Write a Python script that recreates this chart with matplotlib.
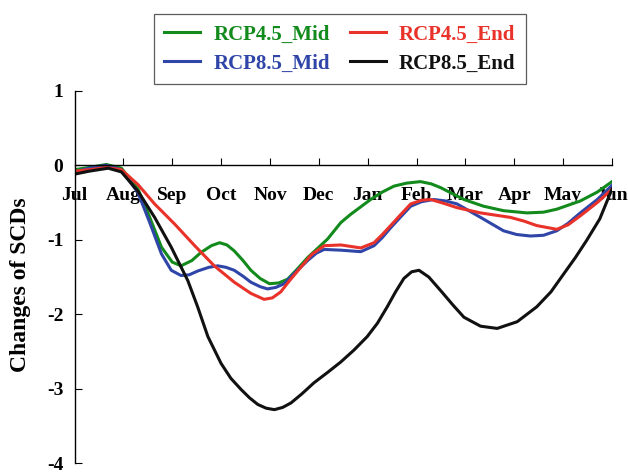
import matplotlib
matplotlib.use("Agg")
import matplotlib.pyplot as plt

plt.rcParams['font.family'] = ['Liberation Serif', 'DejaVu Serif']
plt.rcParams['font.weight'] = 'bold'

months = ['Jul', 'Aug', 'Sep', 'Oct', 'Nov', 'Dec',
          'Jan', 'Feb', 'Mar', 'Apr', 'May', 'Jun']

# month position (Jul = 0) and value
rcp45_mid_x = [0.0, 0.30, 0.65, 0.96, 1.30, 1.54, 1.78, 2.00, 2.18, 2.40, 2.59, 2.80, 2.97,
               3.12, 3.27, 3.45, 3.61, 3.80, 3.99, 4.18, 4.36, 4.55, 4.77, 5.00, 5.18, 5.45,
               5.65, 6.06, 6.30, 6.54, 6.80, 7.08, 7.30, 7.49, 7.97, 8.37, 8.78, 9.26, 9.60,
               9.87, 10.35, 10.70, 11.0]
rcp45_mid = [-0.06, -0.03, 0.01, -0.04, -0.32, -0.70, -1.10, -1.30, -1.35, -1.28, -1.17, -1.08, -1.04,
             -1.07, -1.15, -1.28, -1.41, -1.52, -1.59, -1.58, -1.53, -1.40, -1.24, -1.10, -0.99, -0.77,
             -0.66, -0.46, -0.36, -0.28, -0.24, -0.22, -0.25, -0.30, -0.46, -0.55, -0.61, -0.64, -0.63,
             -0.59, -0.48, -0.36, -0.22]

rcp45_end_x = [0.0, 0.30, 0.65, 0.96, 1.30, 1.64, 2.05, 2.46, 2.86, 3.27, 3.61, 3.88, 4.05, 4.22,
               4.40, 4.63, 4.85, 5.11, 5.45, 5.86, 6.13, 6.30, 6.47, 6.68, 6.88, 7.10, 7.29, 7.55,
               7.83, 8.31, 8.92, 9.20, 9.46, 9.87, 10.10, 10.35, 10.70, 11.0]
rcp45_end = [-0.08, -0.06, -0.03, -0.06, -0.26, -0.52, -0.79, -1.08, -1.35, -1.57, -1.72, -1.80, -1.78,
             -1.70, -1.55, -1.37, -1.20, -1.08, -1.07, -1.11, -1.04, -0.93, -0.81, -0.66, -0.52, -0.47, -0.46,
             -0.51, -0.57, -0.64, -0.70, -0.75, -0.81, -0.86, -0.80, -0.68, -0.50, -0.32]

rcp85_mid_x = [0.0, 0.30, 0.65, 0.96, 1.30, 1.54, 1.78, 1.98, 2.18, 2.35, 2.52, 2.75, 2.93, 3.10,
               3.27, 3.45, 3.61, 3.80, 3.95, 4.12, 4.29, 4.50, 4.77, 4.95, 5.11, 5.45, 5.86, 6.13,
               6.30, 6.47, 6.68, 6.88, 7.10, 7.35, 7.60, 7.83, 8.31, 8.78, 9.05, 9.33, 9.60, 9.87,
               10.10, 10.35, 10.70, 11.0]
rcp85_mid = [-0.09, -0.04, 0.00, -0.06, -0.37, -0.77, -1.19, -1.41, -1.48, -1.47, -1.42, -1.37, -1.35, -1.37,
             -1.41, -1.49, -1.57, -1.63, -1.66, -1.64, -1.59, -1.45, -1.28, -1.18, -1.13, -1.14, -1.16, -1.08,
             -0.97, -0.84, -0.69, -0.55, -0.49, -0.46, -0.48, -0.52, -0.70, -0.88, -0.93, -0.95, -0.94, -0.88,
             -0.78, -0.64, -0.46, -0.27]

rcp85_end_x = [0.0, 0.30, 0.69, 0.96, 1.30, 1.64, 1.98, 2.32, 2.52, 2.73, 3.00, 3.20, 3.41, 3.58,
               3.75, 3.92, 4.09, 4.26, 4.43, 4.65, 4.90, 5.18, 5.45, 5.72, 5.99, 6.20, 6.40, 6.57,
               6.74, 6.90, 7.05, 7.25, 7.49, 7.75, 7.97, 8.31, 8.65, 9.06, 9.46, 9.75, 10.01,
               10.25, 10.48, 10.75, 11.0]
rcp85_end = [-0.12, -0.08, -0.04, -0.09, -0.35, -0.70, -1.10, -1.55, -1.90, -2.30, -2.66, -2.86, -3.01, -3.12,
             -3.21, -3.26, -3.28, -3.25, -3.19, -3.07, -2.92, -2.78, -2.64, -2.48, -2.30, -2.12, -1.90, -1.70,
             -1.52, -1.43, -1.41, -1.50, -1.68, -1.88, -2.04, -2.16, -2.19, -2.10, -1.90, -1.70, -1.46,
             -1.24, -1.01, -0.72, -0.32]

green = '#138a1c'
red = '#e8322a'
blue = '#2f45a8'
black = '#111111'

fig = plt.figure(figsize=(6.28, 4.73), dpi=100)
ax = fig.add_axes([74.5 / 628, 9.7 / 473, 537.5 / 628, 372.6 / 473])

ax.plot(rcp45_mid_x, rcp45_mid, color=green, lw=2.2, label='RCP4.5_Mid')
ax.plot(rcp85_mid_x, rcp85_mid, color=blue, lw=2.2, label='RCP8.5_Mid')
ax.plot(rcp45_end_x, rcp45_end, color=red, lw=2.2, label='RCP4.5_End')
ax.plot(rcp85_end_x, rcp85_end, color=black, lw=2.2, label='RCP8.5_End')

ax.set_xlim(0, 11)
ax.set_ylim(-4, 1)
ax.spines['top'].set_visible(False)
ax.spines['right'].set_visible(False)
ax.spines['bottom'].set_position(('data', 0))
ax.spines['left'].set_linewidth(1.0)
ax.spines['bottom'].set_linewidth(1.0)

ax.set_xticks(range(12))
ax.set_xticklabels(months, fontsize=14, fontweight='bold')
ax.tick_params(axis='x', direction='in', length=5, pad=16)
ax.xaxis.get_major_ticks()[0].tick1line.set_visible(False)
ax.set_yticks([-4, -3, -2, -1, 0, 1])
ax.set_yticklabels(['-4', '-3', '-2', '-1', '0', '1'], fontsize=14, fontweight='bold')
ax.tick_params(axis='y', direction='in', length=5, pad=8)

ax.set_ylabel('Changes of SCDs', fontsize=17, fontweight='bold')
ax.yaxis.set_label_coords(-0.08, 0.48)

handles, labels = ax.get_legend_handles_labels()
leg = fig.legend(handles, labels, ncol=2, loc='upper left',
                 bbox_to_anchor=(154 / 628, 1 - 14 / 473), borderaxespad=0,
                 prop={'size': 15, 'weight': 'bold'}, frameon=True, fancybox=False,
                 edgecolor='#333333', handlelength=1.73, handletextpad=0.62,
                 columnspacing=0.96, labelspacing=0.45, borderpad=0.5,
                 labelcolor='linecolor')
leg.get_frame().set_linewidth(0.9)

fig.savefig('out.png', dpi=100)
